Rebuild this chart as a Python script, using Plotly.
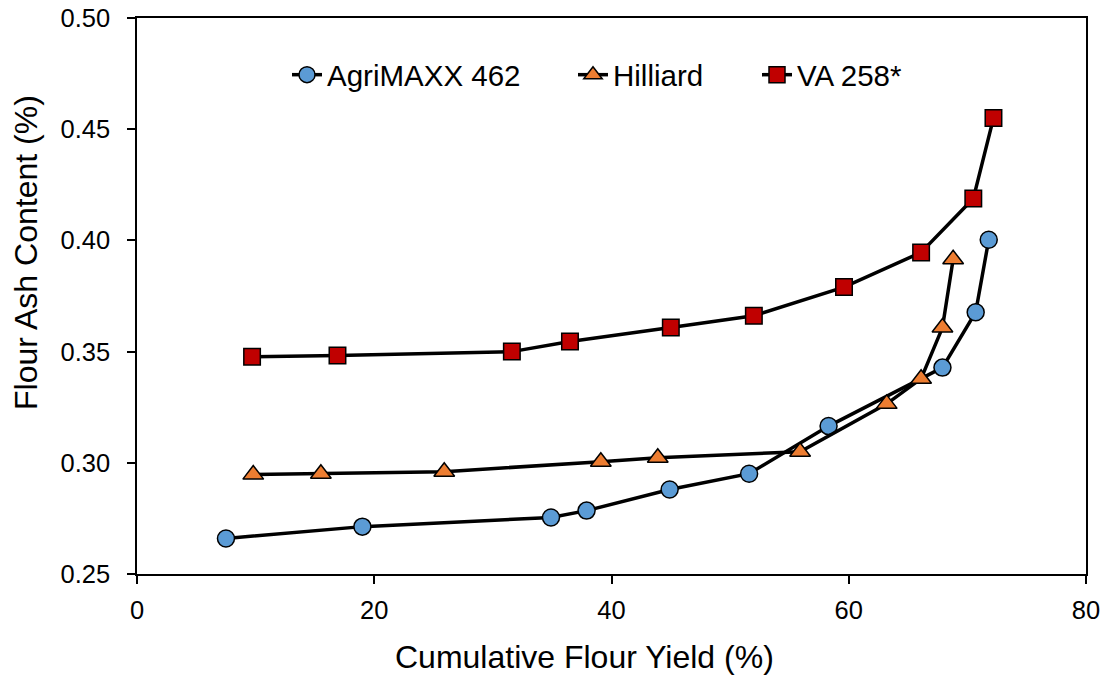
import plotly.graph_objects as go

# Cumulative flour yield (%) and flour ash content (%) for each variety
agrimaxx_yield = [7.5, 19.0, 34.9, 37.9, 44.9, 51.6, 58.3, 67.9, 70.7, 71.8]
agrimaxx_ash = [0.266, 0.2713, 0.2754, 0.2785, 0.288, 0.2951, 0.3165, 0.3428, 0.3677, 0.4003]

hilliard_yield = [9.8, 15.5, 25.9, 39.1, 43.9, 55.9, 63.2, 66.1, 67.9, 68.8]
hilliard_ash = [0.2947, 0.2951, 0.296, 0.3005, 0.3023, 0.305, 0.3265, 0.3378, 0.3608, 0.3915]

va258_yield = [9.7, 16.9, 31.6, 36.5, 45.0, 52.0, 59.6, 66.1, 70.5, 72.2]
va258_ash = [0.3477, 0.3482, 0.35, 0.3545, 0.3608, 0.3661, 0.379, 0.3946, 0.4188, 0.455]

x_ticks = [0, 20, 40, 60, 80]
y_ticks = [0.25, 0.30, 0.35, 0.40, 0.45, 0.50]

FONT = "Liberation Sans, Arial, sans-serif"

# plot-area geometry in pixels
W, H = 1104, 677
L, R, T, B = 137, 18, 18, 103
PW, PH = W - L - R, H - T - B

# name, x, y, symbol, fill, marker size, legend id, legend left edge (px)
series = [
    ("AgriMAXX 462", agrimaxx_yield, agrimaxx_ash, "circle", "#5B9BD5", 17, "legend", 287),
    ("Hilliard", hilliard_yield, hilliard_ash, "triangle-up", "#ED7D31", 18, "legend2", 573),
    ("VA 258*", va258_yield, va258_ash, "square", "#C00000", 16.5, "legend3", 757),
]

fig = go.Figure()
legends = {}
for name, xs, ys, sym, col, size, leg, left_px in series:
    fig.add_trace(go.Scatter(
        x=xs, y=ys, name=name, mode="lines+markers",
        line=dict(color="black", width=3.5),
        marker=dict(symbol=sym, size=size, color=col,
                    line=dict(color="black", width=1.5)),
        legend=leg,
    ))
    legends[leg] = dict(
        orientation="h", x=(left_px - L) / PW, xanchor="left",
        y=(PH + T - 75) / PH, yanchor="middle",
        font=dict(family=FONT, size=29.5, color="black"),
        bgcolor="rgba(0,0,0,0)", borderwidth=0,
    )

axis_common = dict(
    showgrid=False, zeroline=False, automargin=False,
    showline=True, linecolor="black", linewidth=1.5, mirror=True,
    ticks="outside", ticklen=8, tickwidth=1.5, tickcolor="black",
    tickfont=dict(family=FONT, size=25.5, color="black"),
)

fig.update_xaxes(
    range=[0, 80], tickvals=x_ticks, ticktext=[str(v) for v in x_ticks],
    ticklabelstandoff=5,
    **axis_common,
)
fig.update_yaxes(
    range=[0.25, 0.50], tickvals=y_ticks, ticktext=[f"{v:.2f}" for v in y_ticks],
    ticklabelstandoff=12,
    **axis_common,
)

# axis titles, each set a little off the plot-area centre
fig.add_annotation(
    text="Cumulative Flour Yield (%)", showarrow=False,
    xref="paper", yref="paper",
    x=(584.5 - L) / PW, xanchor="center",
    y=(PH + T - 657) / PH, yanchor="middle",
    font=dict(family=FONT, size=32, color="black"),
)
fig.add_annotation(
    text="Flour Ash Content (%)", textangle=-90, showarrow=False,
    xref="paper", yref="paper",
    x=(26 - L) / PW, xanchor="center",
    y=(PH + T - 253) / PH, yanchor="middle",
    font=dict(family=FONT, size=32, color="black"),
)

fig.update_layout(
    width=W, height=H,
    margin=dict(l=L, r=R, t=T, b=B),
    paper_bgcolor="white", plot_bgcolor="white",
    showlegend=True,
    **legends,
)

fig.write_html("out.html")
